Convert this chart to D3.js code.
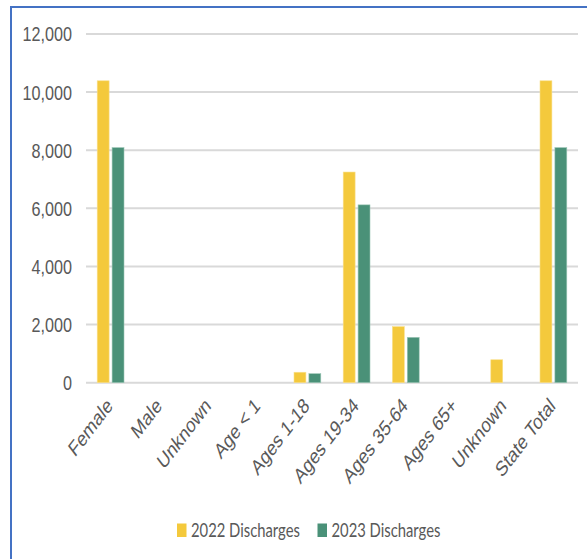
<!DOCTYPE html>
<html>
<head>
<meta charset="utf-8">
<script src="https://cdn.jsdelivr.net/npm/d3@7"></script>
<style>
  html, body { margin: 0; padding: 0; background: #fff; }
  svg { display: block; }
</style>
</head>
<body>
<svg id="chart" width="587" height="559"></svg>
<script>
const categories = ["Female", "Male", "Unknown", "Age < 1", "Ages 1-18", "Ages 19-34", "Ages 35-64", "Ages 65+", "Unknown", "State Total"];
const series = ["2022 Discharges", "2023 Discharges"];
const values2022 = [10390, 0, 0, 0, 360, 7250, 1930, 0, 790, 10390];
const values2023 = [8090, 0, 0, 0, 310, 6120, 1560, 0, 0, 8090];
const yTicks = [0, 2000, 4000, 6000, 8000, 10000, 12000];
const colors = ["#F4C93C", "#4A9178"];
const strokes = ["#F9E08E", "#9CC6B6"];

const svg = d3.select("#chart");
const textColor = "#595959";
const sx = 0.79; // horizontal compression of the reference

// frame
svg.append("line").attr("x1", 11).attr("x2", 11).attr("y1", 7).attr("y2", 559)
  .attr("stroke", "#4472C4").attr("stroke-width", 2);
svg.append("line").attr("x1", 10).attr("x2", 587).attr("y1", 7).attr("y2", 7)
  .attr("stroke", "#4472C4").attr("stroke-width", 2);

const x0 = d3.scaleBand().domain(d3.range(categories.length)).range([86, 578]).paddingInner(0).paddingOuter(0);
const x1 = d3.scaleBand().domain(series).range([-13.4, 13.4]).paddingInner(0.2);
const y = d3.scaleLinear().domain([0, 12000]).range([382.7, 34]);

// gridlines
svg.append("g").selectAll("line").data(yTicks).join("line")
  .attr("x1", 86).attr("x2", 578)
  .attr("y1", d => y(d)).attr("y2", d => y(d))
  .attr("stroke", "#D9D9D9").attr("stroke-width", 2);

// y labels
svg.append("g").selectAll("text").data(yTicks).join("text")
  .attr("transform", d => `translate(72,${y(d)}) scale(${sx},1)`)
  .attr("text-anchor", "end").attr("dy", "0.36em")
  .attr("font-family", "Liberation Sans, Arial, sans-serif")
  .attr("font-size", 20.5).attr("fill", textColor)
  .text(d => d3.format(",")(d));

// bars
const data = categories.map((c, i) => ({ i, vals: [values2022[i], values2023[i]] }));
const groups = svg.append("g").selectAll("g").data(data).join("g")
  .attr("transform", d => `translate(${x0(d.i) + x0.bandwidth() / 2},0)`);
groups.selectAll("rect").data(d => d.vals.map((v, k) => ({ v, k })).filter(e => e.v > 0)).join("rect")
  .attr("x", e => x1(series[e.k]))
  .attr("width", x1.bandwidth())
  .attr("y", e => y(e.v))
  .attr("height", e => y(0) - y(e.v))
  .attr("fill", e => colors[e.k])
  .attr("stroke", e => strokes[e.k]).attr("stroke-width", 0.6);

// x labels
svg.append("g").selectAll("text").data(categories).join("text")
  .attr("transform", (d, i) => `translate(${x0(i) + x0.bandwidth() / 2 + 3},407) scale(0.76,1) rotate(-45)`)
  .attr("text-anchor", "end")
  .attr("font-family", "Liberation Sans, Arial, sans-serif")
  .attr("font-size", 21.5).attr("fill", textColor)
  .text(d => d);

// legend
const legendX = [177, 317.5];
const lg = svg.append("g").selectAll("g").data(series).join("g")
  .attr("transform", (d, i) => `translate(${legendX[i]},0)`);
lg.append("rect").attr("x", 0).attr("y", 523.5).attr("width", 9.5).attr("height", 13.5)
  .attr("fill", (d, i) => colors[i]);
lg.append("text")
  .attr("transform", `translate(14,537) scale(0.8,1)`)
  .attr("font-family", "Lato, Open Sans, sans-serif")
  .attr("font-size", 18.5).attr("fill", textColor)
  .text(d => d);
</script>
</body>
</html>
